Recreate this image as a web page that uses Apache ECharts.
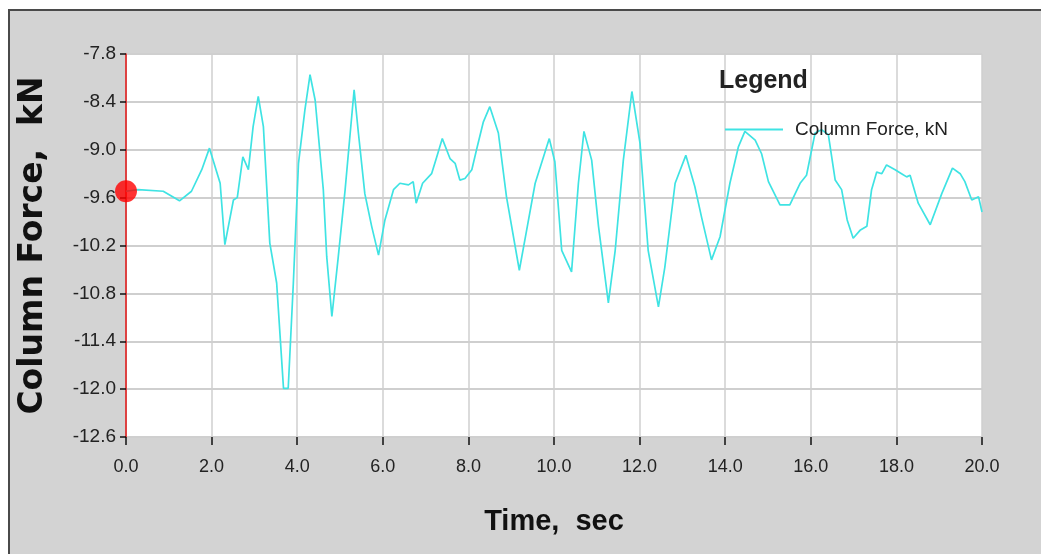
<!DOCTYPE html>
<html>
<head>
<meta charset="utf-8">
<script src="https://cdn.jsdelivr.net/npm/echarts@6/dist/echarts.min.js"></script>
<style>
  html, body { margin: 0; padding: 0; background: #ffffff; overflow: hidden; }
  #frame { position: absolute; left: 8px; top: 9px; width: 1100px; height: 600px; background: #d3d3d3; border-left: 2px solid #4a4a4a; border-top: 2px solid #4a4a4a; }
  #chart { position: absolute; left: 0; top: 0; width: 1041px; height: 554px; }
</style>
</head>
<body>
<div id="frame"></div>
<div id="chart"></div>
<script>
const seriesName = 'Column Force, kN';
const xTitle = 'Time,  sec';
const yTitle = 'Column Force,  kN';
const legendTitle = 'Legend';

const timeSec = [
  0.0, 0.28, 0.87, 1.25, 1.53, 1.77, 1.95, 2.20, 2.31, 2.51, 2.60, 2.73, 2.86, 2.97, 3.09, 3.21,
  3.36, 3.52, 3.68, 3.79, 3.91, 4.03, 4.18, 4.30, 4.42, 4.61, 4.69, 4.81, 4.96, 5.12, 5.23, 5.33,
  5.43, 5.58, 5.74, 5.90, 6.05, 6.25, 6.40, 6.60, 6.71, 6.78, 6.93, 7.14, 7.26, 7.39, 7.57, 7.69,
  7.80, 7.92, 8.08, 8.19, 8.35, 8.50, 8.70, 8.89, 9.19, 9.36, 9.56, 9.89, 10.02, 10.18, 10.41, 10.57,
  10.70, 10.88, 11.04, 11.27, 11.43, 11.62, 11.82, 12.01, 12.20, 12.44, 12.59, 12.83, 13.08, 13.29,
  13.45, 13.68, 13.88, 14.11, 14.31, 14.46, 14.70, 14.85, 15.01, 15.28, 15.51, 15.75, 15.90, 16.10,
  16.25, 16.41, 16.57, 16.72, 16.85, 16.99, 17.15, 17.31, 17.42, 17.54, 17.66, 17.77, 17.97, 18.12,
  18.24, 18.32, 18.51, 18.79, 19.06, 19.31, 19.49, 19.60, 19.76, 19.92, 20.0
];
const forceKN = [
  -9.52, -9.50, -9.52, -9.64, -9.52, -9.25, -8.98, -9.42, -10.19, -9.63, -9.60, -9.09, -9.25, -8.71, -8.33, -8.71,
  -10.17, -10.67, -11.99, -11.99, -10.67, -9.17, -8.50, -8.06, -8.38, -9.50, -10.34, -11.09, -10.34, -9.50, -8.84, -8.25,
  -8.79, -9.55, -9.96, -10.32, -9.88, -9.50, -9.42, -9.44, -9.40, -9.67, -9.42, -9.30, -9.09, -8.86, -9.11, -9.17,
  -9.38, -9.36, -9.25, -9.00, -8.65, -8.46, -8.79, -9.59, -10.51, -10.01, -9.42, -8.86, -9.15, -10.26, -10.53, -9.42,
  -8.77, -9.13, -9.96, -10.92, -10.26, -9.13, -8.27, -8.92, -10.26, -10.97, -10.47, -9.42, -9.07, -9.46,
  -9.85, -10.38, -10.09, -9.42, -8.96, -8.77, -8.88, -9.05, -9.40, -9.69, -9.69, -9.42, -9.32, -8.79,
  -8.75, -8.81, -9.38, -9.50, -9.88, -10.11, -10.01, -9.96, -9.50, -9.28, -9.30, -9.19, -9.25, -9.30,
  -9.34, -9.32, -9.67, -9.94, -9.55, -9.23, -9.30, -9.40, -9.63, -9.59, -9.78
];

const lineData = timeSec.map((t, i) => [t, forceKN[i]]);
const markerData = [[timeSec[0], forceKN[0]]];

const sans = "'Liberation Sans', Arial, sans-serif";

const chart = echarts.init(document.getElementById('chart'), null, { renderer: 'canvas' });
chart.setOption({
  backgroundColor: 'transparent',
  animation: false,
  title: {
    text: legendTitle,
    left: 719,
    top: 69,
    padding: 0,
    textStyle: { fontFamily: sans, fontWeight: 'bold', fontSize: 25, color: '#222222' }
  },
  legend: {
    data: [seriesName],
    left: 725,
    top: 120,
    padding: 0,
    itemWidth: 58,
    itemHeight: 2,
    icon: 'rect',
    itemStyle: { color: '#3fe3e3' },
    textStyle: { fontFamily: sans, fontSize: 19, color: '#222222', padding: [0, 0, 0, 7] }
  },
  grid: {
    left: 126, top: 54, right: 59, bottom: 117,
    show: true, backgroundColor: '#ffffff', borderWidth: 0,
    containLabel: false
  },
  xAxis: {
    type: 'value',
    min: 0, max: 20, interval: 2,
    name: xTitle,
    nameLocation: 'middle',
    nameGap: 70,
    nameTextStyle: { fontFamily: sans, fontWeight: 'bold', fontSize: 29, color: '#111111' },
    axisLine: { show: false },
    axisTick: { show: true, inside: false, length: 8, lineStyle: { color: '#111111', width: 1.5 } },
    axisLabel: {
      margin: 21,
      fontFamily: sans, fontSize: 18, color: '#222222',
      formatter: v => v.toFixed(1)
    },
    splitLine: { show: true, lineStyle: { color: '#cfcfcf', width: 1.5 } }
  },
  yAxis: {
    type: 'value',
    min: -12.6, max: -7.8, interval: 0.6,
    name: yTitle,
    nameLocation: 'middle',
    nameRotate: 90,
    nameGap: 76,
    nameTextStyle: { fontFamily: "'DejaVu Sans', sans-serif", fontWeight: 'bold', fontSize: 33, color: '#111111' },
    axisLine: { show: true, onZero: false, lineStyle: { color: '#e01010', width: 1.5 } },
    axisTick: { show: true, inside: false, length: 6, lineStyle: { color: '#111111', width: 1.5 } },
    axisLabel: {
      margin: 10,
      fontFamily: sans, fontSize: 19, color: '#222222',
      formatter: v => v.toFixed(1)
    },
    splitLine: { show: true, lineStyle: { color: '#cfcfcf', width: 2 } }
  },
  series: [
    {
      name: seriesName,
      type: 'line',
      data: lineData,
      symbol: 'none',
      smooth: false,
      lineStyle: { color: '#3fe3e3', width: 1.7 },
      itemStyle: { color: '#3fe3e3' },
      z: 3
    },
    {
      name: 'start',
      type: 'scatter',
      data: markerData,
      symbol: 'circle',
      symbolSize: 22,
      clip: false,
      silent: true,
      itemStyle: { color: '#ff0000' },
      z: 5
    }
  ]
});
</script>
</body>
</html>
